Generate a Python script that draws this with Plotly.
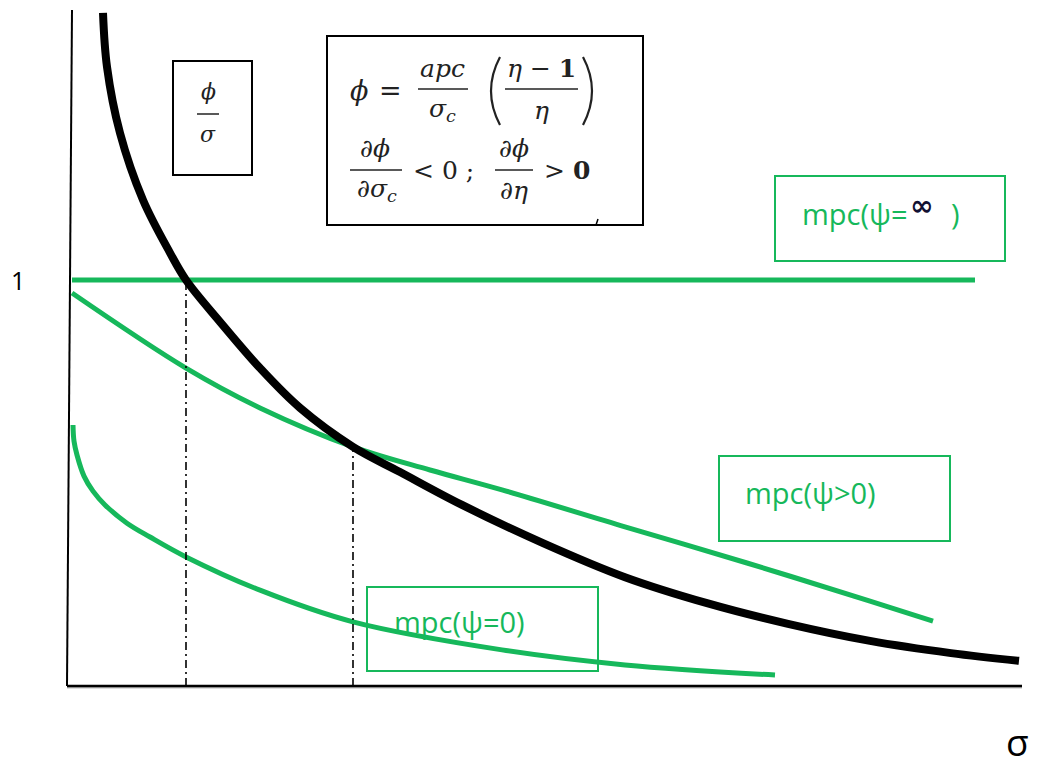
import plotly.graph_objects as go

# ---------------- data ----------------
# phi/sigma curve (black)
phi_sigma = [0.35, 0.39, 0.52, 0.75, 1.02, 1.18, 1.52, 1.92, 2.32, 2.85, 3.32, 3.94, 4.75, 5.57, 6.39, 7.20, 8.02, 8.83, 9.51]
phi_value = [1.658, 1.525, 1.362, 1.197, 1.067, 1.0, 0.897, 0.783, 0.685, 0.589, 0.527, 0.446, 0.352, 0.268, 0.204, 0.153, 0.111, 0.081, 0.062]

# mpc(psi = infinity): flat at 1
inf_sigma = [0.04, 9.07]
inf_value = [1.0, 1.0]

# mpc(psi > 0)
pos_sigma = [0.04, 1.18, 1.92, 2.85, 3.62, 4.34, 5.57, 6.79, 8.02, 8.65]
pos_value = [0.968, 0.783, 0.685, 0.589, 0.532, 0.483, 0.392, 0.303, 0.209, 0.160]

# mpc(psi = 0)
zero_sigma = [0.05, 0.06, 0.09, 0.16, 0.25, 0.37, 0.59, 0.82, 1.18, 1.92, 2.85, 4.34, 5.57, 7.07]
zero_value = [0.643, 0.603, 0.569, 0.517, 0.480, 0.446, 0.401, 0.367, 0.318, 0.236, 0.158, 0.089, 0.052, 0.027]

# equilibrium drop lines
drop_sigma = [1.18, 2.85]
drop_value = [1.0, 0.589]

y_tick_value = 1
y_tick_label = "1"
x_axis_label = "σ"

GREEN = "#16b85b"
INK = "#222222"

# helpers: picture pixel -> data units (layout placement only)
def X(px):
    return (px - 68) / 100.0

def Y(py):
    return (686 - py) / 406.0

fig = go.Figure()

# green curves
fig.add_trace(go.Scatter(x=inf_sigma, y=inf_value, mode="lines",
                         line=dict(color=GREEN, width=5), hoverinfo="skip"))
fig.add_trace(go.Scatter(x=pos_sigma, y=pos_value, mode="lines",
                         line=dict(color=GREEN, width=5, shape="spline", smoothing=1.0),
                         hoverinfo="skip"))
fig.add_trace(go.Scatter(x=zero_sigma, y=zero_value, mode="lines",
                         line=dict(color=GREEN, width=5, shape="spline", smoothing=1.0),
                         hoverinfo="skip"))

# drop lines (dash-dot)
for xs, ys in zip(drop_sigma, drop_value):
    fig.add_trace(go.Scatter(x=[xs, xs], y=[0.0, ys], mode="lines",
                             line=dict(color="black", width=1.6, dash="8px,4px,2px,4px"),
                             hoverinfo="skip"))

# black phi/sigma curve
fig.add_trace(go.Scatter(x=phi_sigma, y=phi_value, mode="lines",
                         line=dict(color="black", width=8, shape="spline", smoothing=1.0),
                         hoverinfo="skip"))

shapes = []
# axes
shapes.append(dict(type="line", x0=X(72), y0=Y(10), x1=X(67), y1=Y(686),
                   line=dict(color="black", width=2)))
shapes.append(dict(type="line", x0=X(67), y0=Y(687.5), x1=X(1022), y1=Y(687.5),
                   line=dict(color="#bbbbbb", width=2)))
shapes.append(dict(type="line", x0=X(67), y0=Y(686), x1=X(1022), y1=Y(686),
                   line=dict(color="black", width=2.5)))

# boxes
def box(x0, y0, x1, y1, color, w=2):
    shapes.append(dict(type="rect", x0=X(x0), y0=Y(y0), x1=X(x1), y1=Y(y1),
                       line=dict(color=color, width=w), fillcolor="rgba(0,0,0,0)"))

box(173, 61, 252, 175, "black", 2)
box(327, 36, 643, 225, "black", 2)
box(775, 176, 1005, 261, GREEN, 2)
box(719, 456, 950, 541, GREEN, 2)
box(367, 587, 598, 671, GREEN, 2)

# fraction bars
def bar(x0, x1, y, w=1.5):
    shapes.append(dict(type="line", x0=X(x0), y0=Y(y), x1=X(x1), y1=Y(y),
                       line=dict(color=INK, width=w)))

bar(197, 219, 114)
bar(418, 468, 89)
bar(505, 578, 89)
bar(350, 402, 170)
bar(495, 533, 170)

# tall thin parentheses around (eta-1)/eta
def paren(xt, xc, yt, yb, w=2.2):
    ym = (yt + yb) / 2
    path = "M {},{} Q {},{} {},{}".format(X(xt), Y(yt), X(xc), Y(ym), X(xt), Y(yb))
    shapes.append(dict(type="path", path=path, xref="x", yref="y",
                       line=dict(color=INK, width=w)))

paren(500, 482, 57, 125)
paren(583, 601, 57, 125)

# small stray mark below the formula box
shapes.append(dict(type="line", x0=X(596), y0=Y(225), x1=X(598), y1=Y(219),
                   line=dict(color="black", width=1.5)))

annotations = []

def txt(text, px, py, size, family="DejaVu Serif", color=INK, xanchor="center"):
    annotations.append(dict(text=text, x=X(px), y=Y(py), xref="x", yref="y",
                            showarrow=False, xanchor=xanchor, yanchor="middle",
                            font=dict(size=size, family=family, color=color)))

# phi / sigma box
txt("<i>ϕ</i>", 208, 91, 22)
txt("<i>σ</i>", 208, 134, 22)

# formula box, line 1
txt("<i>ϕ</i>", 359, 90, 27)
txt("=", 390, 90, 27)
txt("<i>apc</i>", 442, 68, 25)
txt("<i>σ<sub>c</sub></i>", 442, 110, 25)
txt("<i>η</i> − <b>1</b>", 541, 68, 25)
txt("<i>η</i>", 541, 110, 25)

# formula box, line 2
txt("∂<i>ϕ</i>", 375, 148, 25)
txt("∂<i>σ<sub>c</sub></i>", 377, 190, 25)
txt("&lt; 0 ;", 443, 170, 25)
txt("∂<i>ϕ</i>", 514, 148, 25)
txt("∂<i>η</i>", 514, 190, 25)
txt("&gt; <b>0</b>", 567, 170, 25)

# green labels
txt("mpc(ψ=", 800, 213, 29, family="Open Sans", color=GREEN, xanchor="left")
txt("<b>∞</b>", 921, 205, 28, family="DejaVu Sans", color="#111133")
txt(")", 955, 213, 29, family="Open Sans", color=GREEN)
txt("mpc(ψ&gt;0)", 743, 492, 29, family="Open Sans", color=GREEN, xanchor="left")
txt("mpc(ψ=0)", 392, 621, 29, family="Open Sans", color=GREEN, xanchor="left")

# axis texts
annotations.append(dict(text=y_tick_label, x=X(18), y=y_tick_value, xref="x", yref="y",
                        showarrow=False, xanchor="center", yanchor="middle",
                        font=dict(size=25, family="Open Sans", color="black")))
txt(x_axis_label, 1017, 741, 37, family="Open Sans", color="black")

fig.update_layout(
    width=1040, height=767,
    margin=dict(l=0, r=0, t=0, b=0),
    paper_bgcolor="white", plot_bgcolor="white",
    showlegend=False,
    xaxis=dict(visible=False, range=[X(0), X(1040)], fixedrange=True),
    yaxis=dict(visible=False, range=[Y(767), Y(0)], fixedrange=True),
    shapes=shapes,
    annotations=annotations,
)

fig.write_html("out.html", config={"displayModeBar": False},
               post_script="document.body.style.margin='0';document.body.style.overflow='hidden';")
